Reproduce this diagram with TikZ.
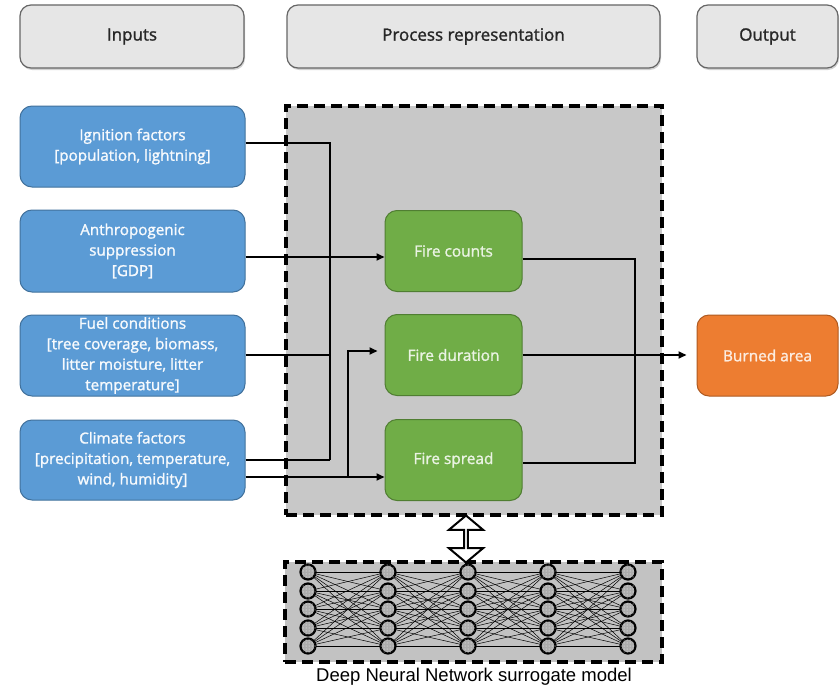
\documentclass[tikz,border=0pt]{standalone}
\usepackage{fontspec}
\setmainfont{Open Sans}[UprightFeatures={FakeBold=1.4}]
\newfontfamily\nnfont{Liberation Sans}
\usetikzlibrary{arrows.meta,shapes.arrows,shadows,patterns}
\definecolor{hdrfill}{HTML}{E6E6E6}
\definecolor{hdrdraw}{HTML}{666666}
\definecolor{bluefill}{HTML}{5B9BD5}
\definecolor{bluedraw}{HTML}{41719C}
\definecolor{greenfill}{HTML}{70AD47}
\definecolor{greendraw}{HTML}{507E32}
\definecolor{orangefill}{HTML}{ED7D31}
\definecolor{orangedraw}{HTML}{AE5A21}
\definecolor{procgray}{HTML}{C8C8C8}
\definecolor{nngray}{HTML}{C2C2C2}
\tikzset{
  hdrbox/.style={draw=hdrdraw, line width=1.2pt, fill=hdrfill, rounded corners=11pt,
    minimum height=63pt, inner sep=0pt, text=black!85,
    font=\fontsize{17}{20}\selectfont,
    drop shadow={shadow xshift=1pt, shadow yshift=-2pt, opacity=0.35}},
  inbox/.style={draw=bluedraw, line width=1pt, fill=bluefill, rounded corners=12pt,
    minimum width=225pt, inner sep=0pt, text=white!95!bluefill, align=center,
    font=\fontsize{15.2}{20.5}\selectfont},
  procbox/.style={draw=greendraw, line width=1pt, fill=greenfill, rounded corners=12pt,
    minimum width=137pt, minimum height=81pt, inner sep=0pt, text=white!85!greenfill,
    font=\fontsize{15.4}{20}\selectfont},
  outbox/.style={draw=orangedraw, line width=1pt, fill=orangefill, rounded corners=12pt,
    minimum width=141pt, minimum height=81pt, inner sep=0pt, text=white!85!orangefill,
    font=\fontsize{15.4}{20}\selectfont},
  dashbox/.style={draw=black, line width=3.2pt, dash pattern=on 11pt off 6pt, inner sep=0pt},
  conn/.style={draw=black, line width=1.8pt},
  arr/.style={conn, -{Triangle[length=8pt,width=7pt]}},
  neuron/.style={circle, draw=black, line width=2.2pt, fill=gray!65, minimum size=15pt,
    inner sep=0pt, postaction={pattern=dots, pattern color=white}},
  nnedge/.style={draw=black, line width=0.5pt}
}
\begin{document}
\begin{tikzpicture}[x=1pt,y=-1pt]
\useasboundingbox[fill=white] (0,0) rectangle (840,685);

% headers
\node[hdrbox, minimum width=224pt] (hin) at (132,36.5) {Inputs};
\node[hdrbox, minimum width=373pt] (hproc) at (473.5,36.5) {Process representation};
\node[hdrbox, minimum width=141pt] (hout) at (767.5,36.5) {Output};

% process region
\node[dashbox, fill=procgray, minimum width=376pt, minimum height=409pt] (proc) at (474,310.5) {};

% input boxes
\node[inbox, minimum height=81pt] (ign) at (132.5,146.5) {Ignition factors\\{[}population, lightning{]}};
\node[inbox, minimum height=82pt] (anth) at (132.5,251) {Anthropogenic\\suppression\\{[}GDP{]}};
\node[inbox, minimum height=81pt] (fuel) at (132.5,355.5) {Fuel conditions\\{[}tree coverage, biomass,\\litter moisture, litter\\temperature{]}};
\node[inbox, minimum height=80pt] (clim) at (132.5,460) {Climate factors\\{[}precipitation, temperature,\\wind, humidity{]}};

% process boxes
\node[procbox] (counts) at (453.5,251) {Fire counts};
\node[procbox] (duration) at (453.5,355) {Fire duration};
\node[procbox] (spread) at (453.5,460) {Fire spread};

% output
\node[outbox] (burned) at (767.5,355.5) {Burned area};

% left connectors
\coordinate (busA) at (330,143);
\coordinate (busB) at (348,477);
\draw[conn] ([yshift=3.5pt]ign.east) -- (busA) -- (busA |- clim.east);
\draw[conn] ([yshift=0.5pt]fuel.east) -- ([yshift=0.5pt]fuel.east -| busA);
\draw[conn] (clim.east) -- (clim.east -| busA);
\draw[arr] ([yshift=-6pt]anth.east) -- ([yshift=-6pt]counts.west);
\draw[arr] ([yshift=-17pt]clim.east) -- ([yshift=-17pt]spread.west);
\draw[arr, shorten >=7pt] (busB) |- ([yshift=4pt]duration.west);

% right connectors
\coordinate (rtop) at (635,259);
\coordinate (rbot) at (635,463);
\draw[conn] ([yshift=-8pt]counts.east) -- (rtop) -- (rbot) -- ([yshift=-3pt]spread.east);
\draw[arr, shorten >=10pt] (duration.east) -- (duration.east -| burned.west);

% neural network box
\node[dashbox, fill=nngray, minimum width=377pt, minimum height=100pt] (nn) at (473.5,612) {};
\foreach \i/\x in {1/308,2/388,3/468,4/548,5/628}{
  \foreach \j/\y in {1/572,2/591,3/609,4/628,5/646}{
    \coordinate (c-\i-\j) at (\x,\y);
  }
}
\foreach \i [evaluate=\i as \k using int(\i+1)] in {1,2,3,4}{
  \foreach \j in {1,...,5}{
    \foreach \m in {1,...,5}{
      \draw[nnedge] (c-\i-\j) -- (c-\k-\m);
    }
  }
}
\foreach \i in {1,...,5}{
  \foreach \j in {1,...,5}{
    \node[neuron] (n-\i-\j) at (c-\i-\j) {};
  }
}
\node[font=\nnfont\fontsize{18.5}{20}\selectfont, inner sep=0pt, anchor=base] (nnlabel) at (474,681) {Deep Neural Network surrogate model};

% double arrow between process and network
\node[double arrow, draw=black, line width=2pt, fill=white, shape border rotate=90,
  minimum height=47pt, minimum width=34pt, inner sep=0pt,
  double arrow head extend=8pt, double arrow tip angle=100] (link) at (466,539) {};
\end{tikzpicture}
\end{document}
